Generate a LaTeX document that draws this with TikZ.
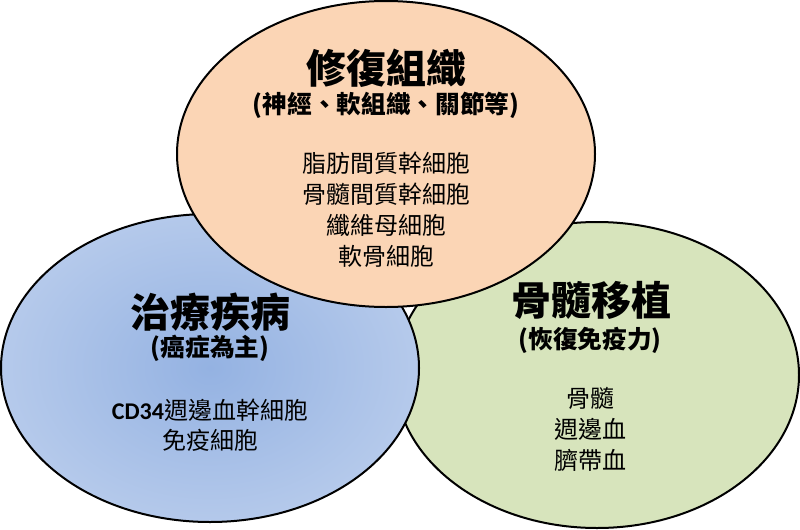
\documentclass[tikz,border=0pt]{standalone}
\usepackage{fontspec}
\setmainfont{Carlito}
\newfontfamily\cjk{Noto Sans CJK TC}
\usetikzlibrary{shapes.geometric}
\definecolor{peach}{RGB}{251,213,181}
\definecolor{sage}{RGB}{215,228,188}
\definecolor{bluein}{RGB}{148,178,226}
\definecolor{blueout}{RGB}{214,225,244}
\tikzset{
  circ/.style={ellipse, draw=black, line width=1.5pt, inner sep=0pt},
  title/.style={font=\fontsize{30pt}{36pt}\selectfont\cjk\bfseries, inner sep=0pt},
  subtitle/.style={font=\fontsize{18.5pt}{22pt}\selectfont\cjk\bfseries, inner sep=0pt},
  body/.style={font=\fontsize{18pt}{23.25pt}\selectfont\cjk, align=center, inner sep=0pt},
}
\begin{document}
\begin{tikzpicture}[x=0.75pt,y=-0.75pt]
\useasboundingbox (0,0) rectangle (800,529);
% green (bottom layer)
\node[circ, fill=sage, minimum width=303pt, minimum height=229.5pt] (green) at (597,375) {};
% blue with radial shading
\node[circ, minimum width=313.5pt, minimum height=231pt,
  path picture={\shade[inner color=bluein, outer color=blueout]
    (path picture bounding box.center) ellipse[x radius=310pt, y radius=236pt];}] (blue) at (210,368) {};
% orange (top layer)
\node[circ, fill=peach, minimum width=313.5pt, minimum height=229.5pt] (top) at (386,154) {};

% top texts
\node[title] (t1) at (386,68) {修復組織};
\node[subtitle] (s1) at (386,105) {(神經、軟組織、關節等)};
\node[body] (b1) at (386,210) {脂肪間質幹細胞\\骨髓間質幹細胞\\纖維母細胞\\軟骨細胞};

% blue texts
\node[title] (t2) at (210,312) {治療疾病};
\node[subtitle] (s2) at (210,348) {(癌症為主)};
\node[body, font=\fontsize{18pt}{22.5pt}\selectfont\cjk] (b2) at (210,425) {{\normalfont\bfseries CD34}週邊血幹細胞\\免疫細胞};

% green texts
\node[title] (t3) at (591,300) {骨髓移植};
\node[subtitle] (s3) at (590,340) {(恢復免疫力)};
\node[body] (b3) at (590,429) {骨髓\\週邊血\\臍帶血};
\end{tikzpicture}
\end{document}
